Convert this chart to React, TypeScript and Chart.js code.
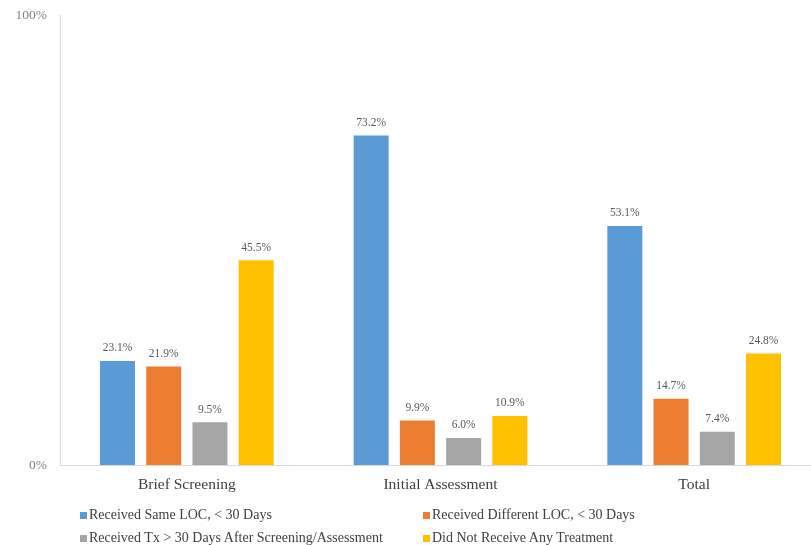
import React, { useEffect, useRef } from "react";
import { Chart, registerables } from "chart.js";

Chart.register(...registerables);

const categories = ["Brief Screening", "Initial Assessment", "Total"];
const seriesNames = [
  "Received Same LOC, < 30 Days",
  "Received Different LOC, < 30 Days",
  "Received Tx > 30 Days After Screening/Assessment",
  "Did Not Receive Any Treatment",
];
const sameLoc = [23.1, 73.2, 53.1];
const differentLoc = [21.9, 9.9, 14.7];
const txAfter30 = [9.5, 6.0, 7.4];
const noTreatment = [45.5, 10.9, 24.8];
const seriesColors = ["#5B9BD5", "#ED7D31", "#A5A5A5", "#FFC000"];
const yTickValues = [0, 100];

const SERIF = "'Liberation Serif', 'Times New Roman', serif";

const valueLabels = {
  id: "valueLabels",
  afterDatasetsDraw(chart: any) {
    const ctx = chart.ctx;
    ctx.save();
    ctx.font = `11.5px ${SERIF}`;
    ctx.fillStyle = "#595959";
    ctx.textAlign = "center";
    ctx.textBaseline = "bottom";
    chart.data.datasets.forEach((ds: any, di: number) => {
      const meta = chart.getDatasetMeta(di);
      meta.data.forEach((bar: any, i: number) => {
        ctx.fillText(`${ds.data[i].toFixed(1)}%`, bar.x, bar.y - 7);
      });
    });
    ctx.restore();
  },
};

export default function App() {
  const canvasRef = useRef<HTMLCanvasElement>(null);

  useEffect(() => {
    const values = [sameLoc, differentLoc, txAfter30, noTreatment];
    const chart = new Chart(canvasRef.current!, {
      type: "bar",
      data: {
        labels: categories,
        datasets: seriesNames.map((name, i) => ({
          label: name,
          data: values[i],
          backgroundColor: seriesColors[i],
          borderWidth: 0,
          categoryPercentage: 0.729,
          barPercentage: 0.757,
        })),
      },
      options: {
        responsive: false,
        animation: false,
        layout: { padding: { top: 15, right: 0, left: 0, bottom: 0 } },
        plugins: {
          legend: { display: false },
          tooltip: { enabled: false },
        },
        scales: {
          x: {
            grid: { display: false },
            border: { display: true, color: "#d9d9d9", width: 1 },
            ticks: {
              color: "#404040",
              font: { family: SERIF, size: 15.5 },
              padding: 3,
            },
            afterFit(scale: any) {
              scale.height = 80;
            },
          },
          y: {
            min: 0,
            max: 100,
            grid: { display: false },
            border: { display: true, color: "#d9d9d9", width: 1 },
            afterBuildTicks(scale: any) {
              scale.ticks = yTickValues.map((v) => ({ value: v }));
            },
            ticks: {
              color: "#7f7f7f",
              font: { family: SERIF, size: 13.5 },
              padding: 5,
              callback: (v: any) => `${v}%`,
            },
            afterFit(scale: any) {
              scale.width = 60;
            },
          },
        },
      },
      plugins: [valueLabels],
    });
    return () => chart.destroy();
  }, []);

  const legendItem = (i: number, left: number, top: number) => (
    <div
      key={i}
      style={{
        position: "absolute",
        left,
        top,
        display: "flex",
        alignItems: "center",
        whiteSpace: "nowrap",
        font: `14px ${SERIF}`,
        color: "#404040",
      }}
    >
      <span
        style={{
          display: "inline-block",
          width: 7,
          height: 7,
          background: seriesColors[i],
          marginRight: 2,
        }}
      />
      {seriesNames[i]}
    </div>
  );

  return (
    <div
      style={{
        position: "fixed",
        left: 0,
        top: 0,
        width: 811,
        height: 545,
        overflow: "hidden",
        background: "#fff",
      }}
    >
      <canvas ref={canvasRef} width={821} height={545} />
      {legendItem(0, 80, 507)}
      {legendItem(1, 423, 507)}
      {legendItem(2, 80, 530)}
      {legendItem(3, 423, 530)}
    </div>
  );
}
